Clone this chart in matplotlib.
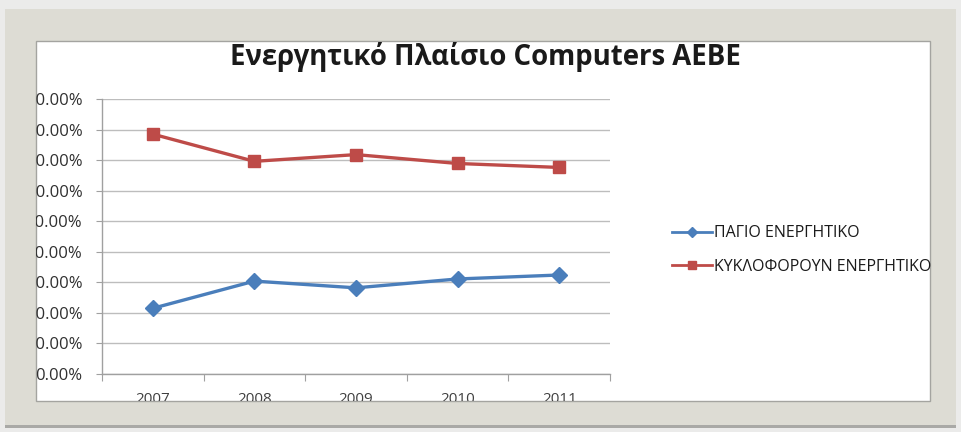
import matplotlib
matplotlib.use("Agg")
import matplotlib.pyplot as plt
from matplotlib.patches import Rectangle
from matplotlib.transforms import Bbox, TransformedBbox
from matplotlib.lines import Line2D

# data
YEARS = ['2007', '2008', '2009', '2010', '2011']
PAGIO = [21.5, 30.4, 28.2, 31.1, 32.4]          # ΠΑΓΙΟ ΕΝΕΡΓΗΤΙΚΟ (%)
KYKLOFOROUN = [78.5, 69.6, 71.8, 68.9, 67.6]    # ΚΥΚΛΟΦΟΡΟΥΝ ΕΝΕΡΓΗΤΙΚΟ (%)
Y_TICKS = [0, 10, 20, 30, 40, 50, 60, 70, 80, 90]
TITLE = 'Ενεργητικό Πλαίσιο Computers AEBE'
LABELS = ['ΠΑΓΙΟ ΕΝΕΡΓΗΤΙΚΟ', 'ΚΥΚΛΟΦΟΡΟΥΝ ΕΝΕΡΓΗΤΙΚΟ']

BLUE = '#4a7ebb'
RED = '#be4b48'
GRID = '#bdbdbd'

W, H = 961, 432
plt.rcParams['font.family'] = ['Open Sans', 'DejaVu Sans']

fig = plt.figure(figsize=(W / 100, H / 100), dpi=100)
fig.patch.set_facecolor('#ebebea')


def px_rect(x0, y0, x1, y1, **kw):
    # rectangle given in pixel coords (origin top-left)
    r = Rectangle((x0 / W, 1 - y1 / H), (x1 - x0) / W, (y1 - y0) / H,
                  transform=fig.transFigure, **kw)
    fig.add_artist(r)
    return r


# window frame + white chart panel
px_rect(5, 9, 956, 428, facecolor='#a9a9a6', edgecolor='none', zorder=-12)
px_rect(5, 9, 956, 425, facecolor='#dddcd4', edgecolor='none', zorder=-11)
px_rect(36, 41, 930, 401, facecolor='white', edgecolor='#a4a4a0',
        linewidth=1.0, zorder=-10)

ax = fig.add_axes([102 / W, 1 - 374 / H, (610 - 102) / W, (374 - 99) / H])
ax.set_facecolor('none')

x = list(range(len(YEARS)))
ax.plot(x, PAGIO, color=BLUE, linewidth=2.4, marker='D', markersize=8,
        markerfacecolor=BLUE, markeredgecolor=BLUE, label=LABELS[0], zorder=3)
ax.plot(x, KYKLOFOROUN, color=RED, linewidth=2.4, marker='s', markersize=9,
        markerfacecolor=RED, markeredgecolor=RED, label=LABELS[1], zorder=3)

ax.set_xlim(-0.5, len(YEARS) - 0.5)
ax.set_ylim(Y_TICKS[0], Y_TICKS[-1])
ax.set_yticks(Y_TICKS)
ax.set_yticklabels([f'{v:.2f}%' for v in Y_TICKS])
ax.yaxis.grid(True, color=GRID, linewidth=1.0)
ax.set_axisbelow(True)

# category boundaries as major ticks, year labels on minor ticks
ax.set_xticks([i - 0.5 for i in range(len(YEARS) + 1)])
ax.set_xticklabels([])
ax.set_xticks(x, minor=True)
ax.set_xticklabels(YEARS, minor=True)
ax.tick_params(axis='x', which='major', length=5, color='#a0a0a0', direction='out')
ax.tick_params(axis='x', which='minor', length=0, pad=13, labelsize=11, labelcolor='#404040')
ax.tick_params(axis='y', length=4, color='#a0a0a0', pad=10, labelsize=12, labelcolor='#303030')

for s in ['top', 'right']:
    ax.spines[s].set_visible(False)
for s in ['left', 'bottom']:
    ax.spines[s].set_color('#a0a0a0')
    ax.spines[s].set_linewidth(1.0)

fig.text(485 / W, 1 - 57 / H, TITLE, ha='center', va='center',
         fontsize=19.8, fontweight='bold', color='#1a1a1a')

handles = [Line2D([], [], color=BLUE, linewidth=2, marker='D', markersize=5),
           Line2D([], [], color=RED, linewidth=2, marker='s', markersize=6)]
fig.legend(handles, LABELS, loc='upper left', bbox_to_anchor=(658 / W, 1 - 211 / H),
           frameon=False, fontsize=11.5, handlelength=2.5, handletextpad=0.1,
           labelspacing=1.1, labelcolor='#1a1a1a')

# axis labels get cut by the edge of the white panel
fig.canvas.draw()
panel = TransformedBbox(Bbox([[36 / W, 1 - 401 / H], [930 / W, 1 - 41 / H]]),
                        fig.transFigure)
for lab in ax.get_yticklabels() + ax.get_xticklabels(minor=True):
    lab.set_clip_box(panel)
    lab.set_clip_on(True)

fig.savefig('out.png', dpi=100, facecolor=fig.get_facecolor())
